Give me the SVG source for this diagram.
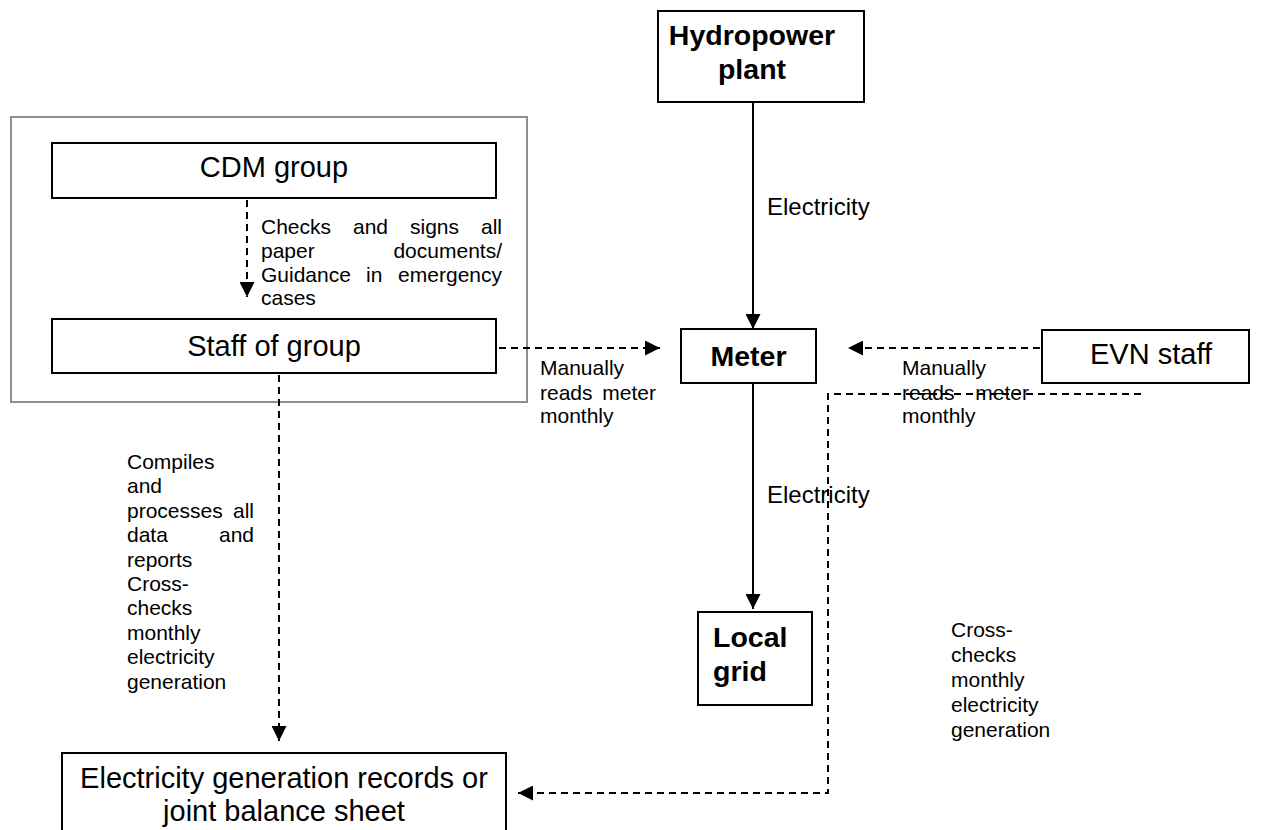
<svg xmlns="http://www.w3.org/2000/svg" width="1262" height="830" viewBox="0 0 1262 830">
<defs>
<style>
.box{fill:#fff;stroke:#000;stroke-width:2}
.grp{fill:none;stroke:#8f8f8f;stroke-width:2}
.t{font-family:"Liberation Sans",Arial,sans-serif;font-size:29px;fill:#000}
.b{font-family:"Liberation Sans",Arial,sans-serif;font-size:28.5px;font-weight:bold;fill:#000}
.l{font-family:"Liberation Sans",Arial,sans-serif;font-size:21px;fill:#000}
.m{font-family:"Liberation Sans",Arial,sans-serif;font-size:24px;fill:#000}
.solid{fill:none;stroke:#000;stroke-width:2}
.dash{fill:none;stroke:#000;stroke-width:2;stroke-dasharray:7 5}
</style>
<marker id="ah" markerUnits="userSpaceOnUse" markerWidth="15" markerHeight="15" refX="15" refY="7.5" orient="auto" viewBox="0 0 15 15">
<path d="M0,0 L15,7.5 L0,15 Z" fill="#000"/>
</marker>
</defs>
<rect width="1262" height="830" fill="#fff"/>

<g id="cdm-area">
<rect class="grp" x="11" y="117" width="516" height="285"/>
</g>

<g id="cdm-group">
<rect class="box" x="52" y="143" width="444" height="55"/>
<text class="t" x="274" y="177" text-anchor="middle">CDM group</text>
</g>

<g id="staff-of-group">
<rect class="box" x="52" y="319" width="444" height="54"/>
<text class="t" x="274" y="356" text-anchor="middle">Staff of group</text>
</g>

<g id="hydropower-plant">
<rect class="box" x="658" y="11" width="206" height="91"/>
<text class="b" x="752" y="45" text-anchor="middle">Hydropower</text>
<text class="b" x="752" y="79" text-anchor="middle">plant</text>
</g>

<g id="meter">
<rect class="box" x="681" y="329" width="135" height="54"/>
<text class="b" x="748.5" y="366" text-anchor="middle">Meter</text>
</g>

<g id="evn-staff">
<rect class="box" x="1042" y="330" width="207" height="53"/>
<text class="t" x="1151" y="364" text-anchor="middle">EVN staff</text>
</g>

<g id="local-grid">
<rect class="box" x="698" y="612" width="114" height="93"/>
<text class="b" x="713" y="647">Local</text>
<text class="b" x="713" y="681">grid</text>
</g>

<g id="records">
<rect class="box" x="62" y="753" width="444" height="90"/>
<text class="t" x="284" y="788" text-anchor="middle">Electricity generation records or</text>
<text class="t" x="284" y="821" text-anchor="middle">joint balance sheet</text>
</g>

<g id="connectors">
<line class="solid" x1="753" y1="102" x2="753" y2="329" marker-end="url(#ah)"/>
<line class="solid" x1="753" y1="383" x2="753" y2="609" marker-end="url(#ah)"/>
<line class="dash" x1="247" y1="200" x2="247" y2="297" marker-end="url(#ah)"/>
<line class="dash" x1="279" y1="375" x2="279" y2="741" marker-end="url(#ah)"/>
<line class="dash" x1="499" y1="348" x2="660" y2="348" marker-end="url(#ah)"/>
<line class="dash" x1="1040" y1="348" x2="848" y2="348" marker-end="url(#ah)"/>
<polyline class="dash" points="1141,394 828,394 828,793 518,793" marker-end="url(#ah)"/>
</g>

<g id="labels">
<text class="m" x="767" y="215">Electricity</text>
<text class="m" x="767" y="503">Electricity</text>

<text class="l" x="261" y="234">Checks</text>
<text class="l" x="353" y="234">and</text>
<text class="l" x="410" y="234">signs</text>
<text class="l" x="502" y="234" text-anchor="end">all</text>
<text class="l" x="261" y="258">paper</text>
<text class="l" x="502" y="258" text-anchor="end">documents/</text>
<text class="l" x="261" y="282">Guidance</text>
<text class="l" x="366" y="282">in</text>
<text class="l" x="502" y="282" text-anchor="end">emergency</text>
<text class="l" x="261" y="305">cases</text>

<text class="l" x="540" y="375">Manually</text>
<text class="l" x="540" y="399.5">reads</text>
<text class="l" x="656" y="399.5" text-anchor="end">meter</text>
<text class="l" x="540" y="423">monthly</text>

<text class="l" x="902" y="375">Manually</text>
<text class="l" x="902" y="399.5">reads</text>
<text class="l" x="1029" y="399.5" text-anchor="end">meter</text>
<text class="l" x="902" y="423">monthly</text>

<text class="l" x="127" y="469">Compiles</text>
<text class="l" x="127" y="493.4">and</text>
<text class="l" x="127" y="517.8">processes</text>
<text class="l" x="254" y="517.8" text-anchor="end">all</text>
<text class="l" x="127" y="542.2">data</text>
<text class="l" x="254" y="542.2" text-anchor="end">and</text>
<text class="l" x="127" y="566.6">reports</text>
<text class="l" x="127" y="591">Cross-</text>
<text class="l" x="127" y="615.4">checks</text>
<text class="l" x="127" y="639.8">monthly</text>
<text class="l" x="127" y="664.2">electricity</text>
<text class="l" x="127" y="688.6">generation</text>

<text class="l" x="951" y="636.5">Cross-</text>
<text class="l" x="951" y="661.5">checks</text>
<text class="l" x="951" y="686.5">monthly</text>
<text class="l" x="951" y="711.5">electricity</text>
<text class="l" x="951" y="736.5">generation</text>
</g>
</svg>
